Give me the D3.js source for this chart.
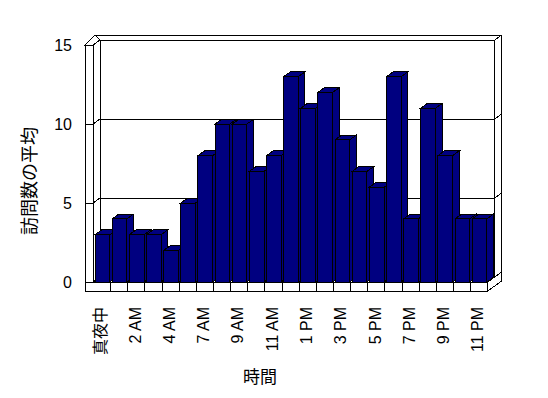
<!DOCTYPE html>
<html><head><meta charset="utf-8">
<script src="https://cdn.jsdelivr.net/npm/d3@7"></script>
<style>
html,body{margin:0;padding:0;background:#fff;}
svg{display:block;}
</style></head>
<body>
<svg id="c" width="548" height="398"></svg>
<script>
// ---- data ----
const categories = ["真夜中","1 AM","2 AM","3 AM","4 AM","5 AM","7 AM","8 AM","9 AM","10 AM","11 AM","正午",
  "1 PM","2 PM","3 PM","4 PM","5 PM","6 PM","7 PM","8 PM","9 PM","10 PM","11 PM"];
const values = [3,4,3,3,2,5,8,10,10,7,8,13,11,12,9,7,6,13,4,11,8,4,4];
const yTicks = [0,5,10,15];
const xTickLabels = categories.filter((d,i)=>i%2===0);
const yTitle = "訪問数の平均";
const xTitle = "時間";

const svg = d3.select("#c");
const x = d3.scaleBand().domain(categories).range([93.5, 487.7]).paddingInner(0).paddingOuter(0);
const y = d3.scaleLinear().domain([0,15]).range([282,45]);
const D = [7,-5];          // depth of floor
const DB = [6.6,-4.7];     // depth of bars
const xL = 85, xI = 93, xEnd = x.range()[1];
const y0 = y(0), yTop = y(15);
const bw = x.bandwidth();

const g = svg.append("g").attr("fill","#fff").attr("stroke","#000").attr("stroke-width",1)
  .attr("shape-rendering","crispEdges");
const P = pts => "M" + pts.map(p=>p.join(",")).join("L") + "Z";

// back wall front face
g.append("rect").attr("x",xI+D[0]).attr("y",yTop+D[1]).attr("width",xEnd-xI).attr("height",y0-yTop);
// back wall right end face
g.append("path").attr("d",P([[xEnd+D[0],yTop+D[1]],[xEnd+2*D[0],yTop+2*D[1]],[xEnd+2*D[0],y0+2*D[1]+9],[xEnd,y0+9],[xEnd,y0],[xEnd+D[0],y0+D[1]]]));
// left wall inner face
g.append("path").attr("d",P([[xI,yTop],[xI+D[0],yTop+D[1]],[xI+D[0],y0+D[1]],[xI,y0]]));
// left wall top
g.append("path").attr("d",P([[xL,yTop],[xL+10,yTop+2*D[1]],[xI+D[0],yTop+2*D[1]],[xI+D[0],yTop+D[1]],[xI,yTop]]));
g.append("path").attr("d",P([[xL+10,yTop+2*D[1]],[xEnd+2*D[0],yTop+2*D[1]],[xEnd+D[0],yTop+D[1]],[xI+D[0],yTop+D[1]]]));
// left wall front face
g.append("path").attr("d",P([[xL,yTop],[xI,yTop],[xI,y0],[xL,y0]])).attr("stroke",null);
g.append("line").attr("x1",xL).attr("y1",yTop).attr("x2",xL).attr("y2",y0+9);
g.append("line").attr("x1",xI).attr("y1",yTop).attr("x2",xI).attr("y2",y0);
// floor top
g.append("path").attr("d",P([[xI,y0],[xI+D[0],y0+D[1]],[xEnd+D[0],y0+D[1]],[xEnd,y0]]));
// floor front face
g.append("path").attr("d",P([[xL,y0],[xEnd,y0],[xEnd,y0+9],[xL,y0+9]])).attr("stroke",null);
g.append("line").attr("x1",xI).attr("y1",y0).attr("x2",xEnd).attr("y2",y0);
g.append("line").attr("x1",xL).attr("y1",y0+9).attr("x2",xEnd).attr("y2",y0+9);
g.append("line").attr("x1",xEnd).attr("y1",y0).attr("x2",xEnd).attr("y2",y0+9);
// floor right end face
g.append("path").attr("d",P([[xEnd,y0],[xEnd+2*D[0],y0+2*D[1]],[xEnd+2*D[0],y0+2*D[1]+9],[xEnd,y0+9]]));
// outer right edge
g.append("line").attr("x1",xEnd+2*D[0]).attr("y1",yTop+2*D[1]).attr("x2",xEnd+2*D[0]).attr("y2",y0+2*D[1]+9);

// gridlines
yTicks.filter(v=>v>0 && v<15).forEach(v=>{
  const yy = y(v);
  g.append("line").attr("x1",xI+D[0]).attr("y1",yy+D[1]).attr("x2",xEnd+D[0]).attr("y2",yy+D[1]);
  g.append("line").attr("x1",xI).attr("y1",yy).attr("x2",xI+D[0]).attr("y2",yy+D[1]);
  g.append("line").attr("x1",xL).attr("y1",yy).attr("x2",xI).attr("y2",yy);
  g.append("line").attr("x1",xEnd+D[0]).attr("y1",yy+D[1]).attr("x2",xEnd+2*D[0]).attr("y2",yy+2*D[1]);
});
// floor dividers
categories.slice(1).forEach(c=>{
  g.append("line").attr("x1",x(c)).attr("y1",y0).attr("x2",x(c)).attr("y2",y0+9);
});

// bars
const bars = svg.append("g").attr("fill","#000080").attr("stroke","#000").attr("stroke-width",1)
  .attr("shape-rendering","crispEdges");
categories.forEach((c,i)=>{
  const x0 = x(c)+1.6, x1 = x(c)+bw-0.8, yt = y(values[i]);
  const gb = bars.append("g");
  gb.append("path").attr("d",P([[x1,yt],[x1+DB[0],yt+DB[1]],[x1+DB[0],y0+DB[1]],[x1,y0]]));
  gb.append("path").attr("d",P([[x0,yt],[x0+DB[0],yt+DB[1]],[x1+DB[0],yt+DB[1]],[x1,yt]]));
  gb.append("rect").attr("x",x0).attr("y",yt).attr("width",x1-x0).attr("height",y0-yt);
});

// y axis labels
const ya = svg.append("g").attr("transform",`translate(${xL},0)`)
  .call(d3.axisLeft(y).tickValues(yTicks).tickSize(0).tickPadding(13).tickFormat(d3.format("d")));
ya.select(".domain").remove();
ya.selectAll("text").attr("font-size",16).attr("font-family","'Liberation Sans', Arial, sans-serif").attr("fill","#000");

// x axis labels
const xa = svg.append("g").attr("transform","translate(-1.5,307)")
  .call(d3.axisBottom(x).tickValues(xTickLabels).tickSize(0));
xa.select(".domain").remove();
xa.selectAll("text").attr("transform","rotate(-90)").attr("x",0).attr("y",0).attr("dy","0.36em")
  .attr("text-anchor","end").attr("font-size",16)
  .attr("font-family",d=>/^[\x00-\x7f]*$/.test(d) ? "'Liberation Sans', Arial, sans-serif" : "'Noto Sans CJK JP', sans-serif")
  .attr("fill","#000");

// titles
svg.append("text").attr("transform","translate(28,181) rotate(-90)").attr("text-anchor","middle")
  .attr("dominant-baseline","central").attr("font-size",18).attr("font-family","'Noto Sans CJK JP', sans-serif")
  .attr("fill","#000").text(yTitle);
svg.append("text").attr("x",260).attr("y",375).attr("text-anchor","middle")
  .attr("dominant-baseline","central").attr("font-size",17).attr("font-family","'Noto Sans CJK JP', sans-serif")
  .attr("fill","#000").text(xTitle);
</script>
</body></html>
